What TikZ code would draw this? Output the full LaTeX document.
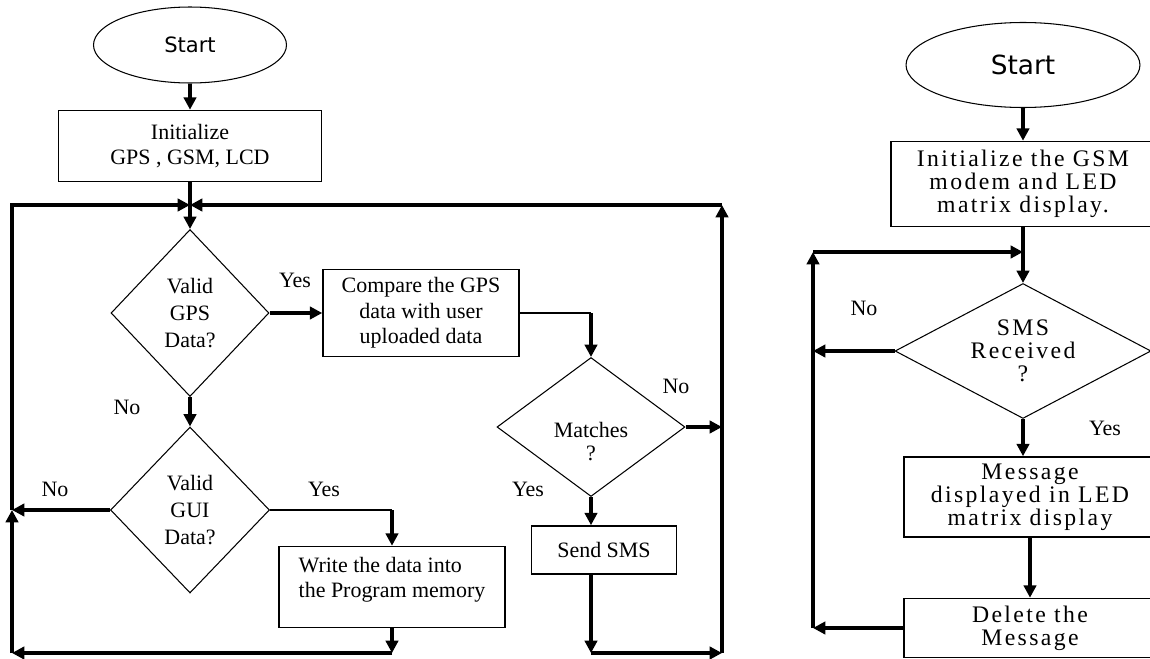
\documentclass[tikz,border=0pt]{standalone}
\usepackage{fontspec}
\setmainfont{Liberation Serif}
\newfontfamily\startfont{DejaVu Sans}
\newfontfamily\widefont[LetterSpace=10]{Liberation Serif}
\usetikzlibrary{shapes.geometric, arrows.meta, positioning, calc}

\tikzset{
    % Node styles
    startbox/.style={
        ellipse,
        draw,
        line width=0.6pt,
        font=\startfont\fontsize{12}{14}\selectfont
    },
    procbox/.style={
        rectangle,
        draw,
        line width=0.9pt,
        align=center,
        font=\fontsize{12.5}{14.5}\selectfont
    },
    decbox/.style={
        diamond,
        draw,
        line width=0.6pt,
        inner sep=0pt,
        align=center,
        font=\fontsize{12.5}{15.5}\selectfont
    },
    widebox/.style={
        rectangle,
        draw,
        line width=0.9pt,
        align=center,
        font=\widefont\fontsize{13.5}{13}\selectfont
    },
    % Arrow styles
    myarrow/.style={
        -{Triangle[length=7pt,width=7pt]},
        line width=1.9pt
    },
    myline/.style={
        line width=1.9pt
    },
    thinline/.style={
        line width=0.9pt
    },
    lbl/.style={
        font=\fontsize{12.5}{14}\selectfont
    }
}

\begin{document}
\begin{tikzpicture}[x=0.02cm, y=-0.02cm]
    \useasboundingbox (0,0) rectangle (1150,659);

    % ---- GPS side ----
    \node[startbox, minimum width=3.86cm, minimum height=1.52cm] (start) at (190,45) {Start};
    \node[procbox, minimum width=5.26cm, minimum height=1.42cm] (init) at (190,146) {Initialize\\GPS , GSM, LCD};
    \coordinate (jL) at (190,205);

    \node[decbox, minimum width=3.16cm, minimum height=3.34cm] (gps) at (190,313) {Valid\\GPS\\Data?};
    \node[procbox, minimum width=3.92cm, minimum height=1.74cm] (cmp) at (421,313) {Compare the GPS\\data with user\\uploaded data};
    \node[decbox, shape aspect=1.3, font=\fontsize{12.5}{13}\selectfont, minimum width=3.76cm, minimum height=2.78cm] (mat) at (591,427) {\strut\\[3pt]Matches\\?};
    \node[procbox, minimum width=2.9cm, minimum height=0.96cm] (send) at (604,550) {Send SMS};

    \node[decbox, minimum width=3.18cm, minimum height=3.32cm] (gui) at (190,510) {Valid\\GUI\\Data?};
    \node[procbox, align=left, minimum width=4.52cm, minimum height=1.62cm] (write) at (392,587) {Write the data into\\the Program memory\\[-8pt]\strut};

    % loop corners
    \coordinate (cL1) at (12,510);
    \coordinate (cL2) at (12,653);
    \coordinate (cB1) at (392,653);
    \coordinate (cB2) at (591,653);
    \coordinate (cR1) at (722,205);
    \coordinate (cR2) at (722,653);

    % Arrows
    \draw[myarrow] (start) -- (init);
    \draw[myline] (init) -- (jL);
    \draw[myarrow] (jL) -- (gps);
    \draw[myarrow] (gps) -- (cmp);
    \draw[thinline] (cmp.east) -- (cmp.east -| mat.north);
    \draw[myarrow] (cmp.east -| mat.north) -- (mat.north);
    \draw[myarrow] (mat.east) -- (mat.east -| cR2);
    \draw[myarrow] (mat.south) -- (mat.south |- send.north);
    \draw[myarrow] (mat.south |- send.south) -- (cB2);
    \draw[myarrow] (cB2) -- (cR2);
    \draw[myarrow] (cR2) -- (cR1);
    \draw[myarrow] (cR1) -- (jL);

    \draw[myarrow] (gps) -- (gui);
    \draw[myarrow] (gui.west) -- (cL1);
    \draw[thinline] (gui.east) -- (gui.east -| write.north);
    \draw[myarrow] (gui.east -| write.north) -- (write.north);
    \draw[myarrow] (write.south) -- (cB1);
    \draw[myarrow] (cB1) -- (cL2);
    \draw[myarrow] (cL2) -- (cL1);
    \draw[myarrow] (cL1) |- (jL);

    % Labels
    \node[lbl] (yes1) at (295,280) {Yes};
    \node[lbl] (no1) at (127,407) {No};
    \node[lbl] (no2) at (55,489) {No};
    \node[lbl] (yes2) at (324,489) {Yes};
    \node[lbl] (no3) at (676,386) {No};
    \node[lbl] (yes3) at (528,489) {Yes};

    % ---- LED side ----
    \node[startbox, font=\startfont\fontsize{15}{17}\selectfont, minimum width=4.68cm, minimum height=1.7cm] (start2) at (1023,65) {Start};
    \node[widebox, minimum width=5.28cm, minimum height=1.7cm] (init2) at (1023,184) {Initialize the GSM\\modem and LED\\matrix display.};
    \coordinate (jR) at (1023,252);
    \node[decbox, shape aspect=1.9, font=\widefont\fontsize{13.5}{13}\selectfont, minimum width=5.12cm, minimum height=2.7cm] (rcv) at (1023,351) {SMS\\Received\\?};
    \node[widebox, minimum width=5.04cm, minimum height=1.6cm] (msg) at (1030,497) {Message\\displayed in LED\\matrix display};
    \node[widebox, minimum width=5.04cm, minimum height=1.18cm] (del) at (1030,628) {Delete the\\Message};

    \coordinate (cR3) at (813,628);
    \coordinate (cR4) at (813,252);

    \draw[myarrow] (start2) -- (init2);
    \draw[myline] (init2) -- (jR);
    \draw[myarrow] (jR) -- (rcv);
    \draw[myarrow] (rcv.west) -- (rcv.west -| cR3);
    \draw[myarrow] (rcv.south) -- (rcv.south |- msg.north);
    \draw[myarrow] (msg) -- (del);
    \draw[myarrow] (del.west) -- (cR3);
    \draw[myarrow] (cR3) -- (cR4);
    \draw[myarrow] (cR4) -- (jR);

    \node[lbl] (no4) at (864,308) {No};
    \node[lbl] (yes4) at (1105,428) {Yes};
\end{tikzpicture}
\end{document}
